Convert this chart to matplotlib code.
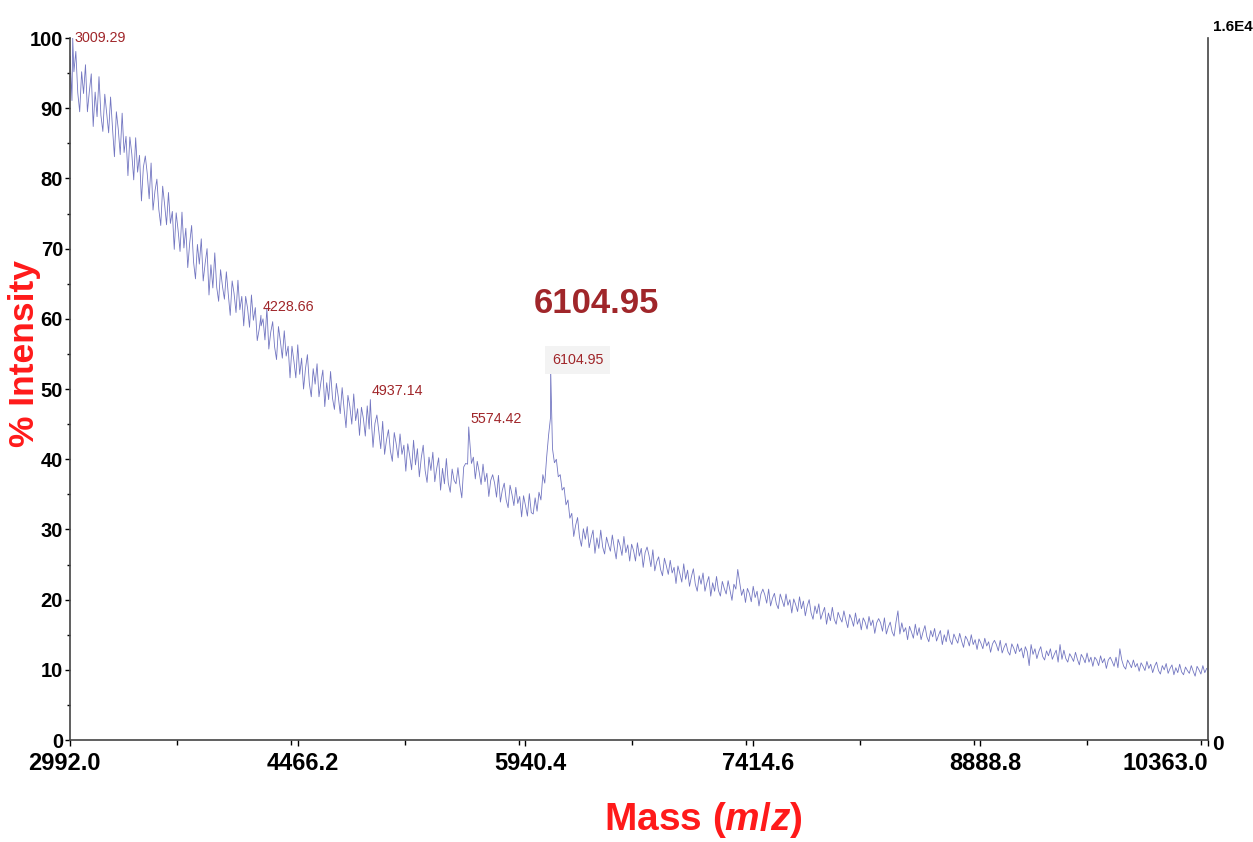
import numpy as np
import matplotlib
matplotlib.use('Agg')
import matplotlib.pyplot as plt
from matplotlib.ticker import MultipleLocator

plt.rcParams['font.family'] = ['Liberation Sans', 'DejaVu Sans']
plt.rcParams['mathtext.fontset'] = 'custom'
plt.rcParams['mathtext.it'] = 'Liberation Sans:italic:bold'
plt.rcParams['mathtext.rm'] = 'Liberation Sans:bold'

mz_start, mz_step = 2992, 12.5
intensity = [
    97.4, 91.1, 95.2, 98.1, 92.2, 89.5, 95.2, 92.1, 96.2, 89.5, 92.4, 94.9, 87.4, 92.3, 88.8, 94.5, 89.0, 86.7, 92.0, 89.3,
    86.5, 91.6, 87.2, 83.1, 89.5, 87.0, 83.4, 89.3, 83.7, 86.0, 80.4, 85.9, 83.5, 79.8, 85.8, 80.9, 83.3, 76.8, 81.6, 83.2,
    80.7, 77.1, 82.2, 75.5, 78.2, 79.9, 75.6, 73.3, 78.9, 76.3, 73.4, 78.0, 73.6, 75.3, 69.9, 75.1, 72.6, 69.6, 75.2, 70.1,
    72.9, 67.3, 70.8, 73.3, 68.1, 65.7, 70.6, 67.8, 71.4, 65.4, 67.9, 70.0, 63.4, 67.7, 64.4, 69.4, 64.5, 62.5, 67.0, 64.6,
    62.8, 66.7, 63.5, 60.5, 65.4, 63.6, 60.9, 65.5, 61.3, 63.2, 59.0, 63.2, 61.5, 58.8, 63.4, 59.8, 61.6, 56.9, 58.5, 59.0,
    60.0, 57.0, 61.5, 55.7, 58.1, 59.6, 56.0, 54.2, 58.9, 56.8, 54.4, 58.3, 54.7, 56.1, 51.6, 56.1, 54.0, 51.6, 56.3, 52.1,
    54.4, 50.0, 52.9, 54.9, 50.8, 48.9, 52.9, 50.7, 53.6, 48.9, 51.0, 52.7, 47.5, 50.9, 48.5, 52.5, 48.7, 47.1, 50.8, 48.9,
    46.5, 50.2, 47.2, 44.5, 49.1, 47.5, 45.0, 49.3, 45.5, 47.2, 43.4, 47.4, 45.8, 43.3, 47.6, 44.3, 46.1, 41.7, 45.1, 46.3,
    44.0, 41.5, 45.4, 40.7, 42.8, 44.2, 41.2, 39.7, 43.8, 42.2, 40.2, 43.6, 40.7, 42.0, 38.3, 42.2, 40.5, 38.5, 42.7, 39.2,
    41.5, 37.5, 40.2, 42.0, 38.4, 36.7, 40.3, 38.4, 41.0, 36.8, 38.7, 40.2, 35.6, 38.7, 36.5, 40.1, 36.6, 35.3, 38.6, 37.0,
    36.5, 38.8, 36.3, 34.5, 38.9, 39.4, 39.3, 43.0, 39.4, 40.3, 37.2, 39.7, 38.2, 36.4, 39.3, 36.8, 38.0, 34.7, 37.0, 37.8,
    36.6, 34.6, 37.7, 33.9, 35.6, 36.6, 34.2, 33.1, 36.3, 35.0, 33.4, 36.0, 33.7, 34.7, 31.8, 34.8, 33.4, 31.9, 35.1, 32.4,
    32.2, 34.5, 32.6, 35.3, 34.2, 37.8, 36.6, 40.4, 43.5, 46.0, 41.5, 39.5, 40.0, 37.5, 37.8, 35.6, 36.0, 33.5, 34.2, 31.6,
    32.3, 29.0, 30.6, 31.7, 28.9, 27.6, 30.1, 28.6, 30.4, 27.4, 28.8, 29.9, 26.6, 28.8, 27.3, 29.9, 27.5, 26.5, 28.9, 27.8,
    26.9, 29.2, 27.4, 25.8, 28.6, 27.7, 26.3, 29.0, 26.7, 27.8, 25.5, 27.9, 27.0, 25.5, 28.1, 26.2, 27.3, 24.6, 26.7, 27.5,
    26.3, 24.7, 27.1, 24.1, 25.4, 26.1, 24.3, 23.4, 25.9, 24.8, 23.6, 25.6, 23.8, 24.6, 22.3, 24.8, 23.7, 22.5, 25.1, 22.9,
    24.2, 21.9, 23.3, 24.4, 22.2, 21.2, 23.4, 22.2, 23.8, 21.2, 22.4, 23.3, 20.5, 22.4, 21.2, 23.3, 21.3, 20.5, 22.6, 21.6,
    20.8, 22.7, 21.3, 19.9, 22.2, 21.5, 24.3, 22.5, 20.6, 21.5, 19.6, 21.6, 20.9, 19.7, 21.9, 20.3, 21.2, 19.1, 20.8, 21.5,
    20.7, 19.5, 21.5, 19.1, 20.2, 20.9, 19.4, 18.7, 20.8, 19.9, 19.0, 20.8, 19.2, 20.0, 18.1, 20.1, 19.3, 18.3, 20.4, 18.7,
    19.8, 17.7, 19.1, 20.0, 18.1, 17.2, 19.1, 18.0, 19.4, 17.2, 18.1, 18.9, 16.5, 18.1, 17.0, 18.9, 17.2, 16.5, 18.2, 17.4,
    16.8, 18.4, 17.1, 16.0, 17.9, 17.2, 16.2, 18.1, 16.5, 17.3, 15.7, 17.4, 16.8, 15.8, 17.6, 16.3, 17.1, 15.2, 16.7, 17.3,
    16.7, 15.5, 17.4, 15.1, 16.1, 16.8, 15.4, 14.8, 16.8, 18.4, 15.1, 16.7, 15.4, 16.0, 14.3, 16.2, 15.4, 14.5, 16.5, 14.9,
    16.0, 14.3, 15.4, 16.3, 14.7, 14.0, 15.6, 14.7, 15.9, 14.1, 14.9, 15.6, 13.6, 15.0, 14.0, 15.7, 14.2, 13.6, 15.1, 14.4,
    13.8, 15.2, 14.1, 13.2, 14.8, 14.3, 13.4, 15.0, 13.6, 14.3, 12.9, 14.4, 13.8, 13.0, 14.5, 13.4, 14.0, 12.5, 13.7, 14.2,
    13.6, 12.7, 14.2, 12.4, 13.2, 13.8, 12.6, 12.1, 13.7, 13.1, 12.3, 13.7, 12.6, 13.1, 11.7, 13.3, 12.6, 10.6, 13.6, 12.2,
    13.0, 11.6, 12.6, 13.3, 11.9, 11.4, 12.7, 12.0, 13.0, 11.5, 12.2, 12.8, 11.1, 13.6, 11.5, 12.8, 11.6, 11.1, 12.3, 11.8,
    11.2, 12.5, 11.5, 10.7, 12.2, 11.7, 11.0, 12.4, 11.1, 11.8, 10.5, 11.8, 11.4, 10.6, 12.0, 11.0, 11.6, 10.2, 11.4, 11.8,
    11.2, 10.5, 11.8, 10.3, 13.0, 11.4, 10.5, 10.1, 11.4, 10.9, 10.3, 11.4, 10.4, 10.9, 9.8, 11.0, 10.5, 9.9, 11.2, 10.2,
    10.8, 9.6, 10.5, 11.1, 9.9, 9.4, 10.6, 10.0, 10.9, 9.5, 10.2, 10.7, 9.3, 10.3, 9.6, 10.8, 9.7, 9.3, 10.4, 9.9,
    9.5, 10.6, 9.8, 9.1, 10.5, 10.0, 9.4, 10.6, 9.6, 10.2,
]

# labelled peaks
peak_mz = [3009.29, 4228.66, 4937.14, 5574.42, 6104.95]
peak_int = [100, 60.5, 48.5, 44.6, 53]
peak_labels = ['3009.29', '4228.66', '4937.14', '5574.42', '6104.95']

x_ticks = [2992.0, 4466.2, 5940.4, 7414.6, 8888.8, 10363.0]

mz = mz_start + mz_step * np.arange(len(intensity))
all_mz = np.concatenate([mz, peak_mz])
all_int = np.concatenate([intensity, peak_int])
order = np.argsort(all_mz)
all_mz, all_int = all_mz[order], all_int[order]

fig = plt.figure(figsize=(12.53, 8.42), dpi=100)
ax = fig.add_axes([0.0559, 0.1211, 0.9082, 0.8337])

ax.plot(all_mz, all_int, color='#5a5eb6', lw=0.6, alpha=0.85)

ax.set_xlim(x_ticks[0], x_ticks[-1])
ax.set_ylim(0, 100)
ax.set_xticks(x_ticks)
ax.xaxis.set_minor_locator(MultipleLocator((x_ticks[1] - x_ticks[0]) / 2))
ax.set_yticks(range(0, 101, 10))
ax.yaxis.set_minor_locator(MultipleLocator(5))

# x tick labels drawn by hand: first sits a bit left, the rest a bit right, last ends at the axis
ax.tick_params(axis='x', labelbottom=False)
for i, t in enumerate(x_ticks):
    if i == len(x_ticks) - 1:
        dx, ha = 0, 'right'
    elif i == 0:
        dx, ha = -6, 'center'
    else:
        dx, ha = 5, 'center'
    ax.annotate(f'{t:.1f}', (t, 0), xycoords=('data', 'axes fraction'),
                xytext=(dx, -23), textcoords='offset pixels', ha=ha, va='center',
                fontsize=17, fontweight='bold')

for lab in ax.get_yticklabels():
    lab.set_fontweight('bold')
    lab.set_fontsize(14.5)

ax.tick_params(axis='x', which='major', length=4, width=1, direction='out')
ax.tick_params(axis='x', which='minor', length=3.5, width=1, direction='out')
ax.tick_params(axis='y', which='major', length=3.5, width=1, pad=1.5, direction='out')
ax.tick_params(axis='y', which='minor', length=2.5, width=1, direction='out')

ax.spines['top'].set_visible(False)
for s in ['left', 'bottom', 'right']:
    ax.spines[s].set_color('#444444')
    ax.spines[s].set_linewidth(1.2)

# right-hand absolute scale
ax.text(1.004, 1.016, '1.6E4', transform=ax.transAxes, ha='left', va='center',
        fontsize=11, fontweight='bold')
ax.text(1.004, -0.007, '0', transform=ax.transAxes, ha='left', va='center',
        fontsize=15, fontweight='bold')

# peak labels
for i, (m, v, t) in enumerate(zip(peak_mz, peak_int, peak_labels)):
    dy = 0 if i == 0 else 6
    bbox = None
    if t == '6104.95':
        bbox = dict(facecolor='#f3f3f3', edgecolor='none', pad=5)
    ax.annotate(t, (m, v), xytext=(1, dy), textcoords='offset points',
                ha='left', va='center', fontsize=10.3, color='#a0262a', bbox=bbox)

ax.text(6399, 62.2, '6104.95', ha='center', va='center', fontsize=25,
        fontweight='bold', color='#a0262a')

fig.text(0.0192, 0.5796, '% Intensity', rotation=90, ha='center', va='center',
         fontsize=25.5, fontweight='bold', color='#ff1a1a')
fig.text(0.561, 0.026, 'Mass ($m/z$)', ha='center', va='center',
         fontsize=28, fontweight='bold', color='#ff1a1a')

fig.savefig('out.png', dpi=100)
